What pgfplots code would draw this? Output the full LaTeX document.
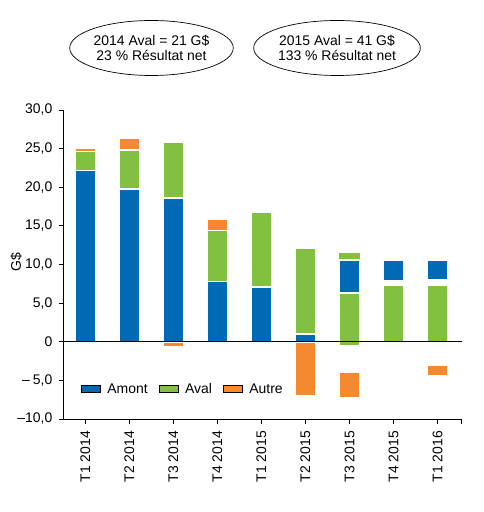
\documentclass[border=0pt]{standalone}
\usepackage{pgfplots}
\pgfplotsset{compat=1.18}
\usepackage{pgfplotstable}
\usepackage{fontspec}
\setmainfont{Liberation Sans}
\usetikzlibrary{shapes.geometric}
\definecolor{amontc}{RGB}{0,106,180}
\definecolor{avalc}{RGB}{130,192,66}
\definecolor{autrec}{RGB}{244,137,48}

\pgfplotstableread{
x base olow gap1 glow gap2 amont aval gcap atop
0 0    0   0   0   0   22.2 2.4  0   0.5
1 0    0   0   0   0   19.8 5.0  0   1.5
2 -0.6 0.6 0   0   0   18.6 7.2  0   0
3 0    0   0   0   0   7.8  6.6  0   1.4
4 0    0   0   0   0   7.1  9.6  0   0
5 -7.0 7.0 0   0   0   1.0  11.1 0   0
6 -7.2 3.2 3.5 6.8 0   4.3  0    0.9 0
7 0    0   0   7.3 0.6 2.7  0    0   0
8 -4.4 1.4 3.0 7.3 0.7 2.6  0    0   0
}\data

\begin{document}
\begin{tikzpicture}[font=\fontsize{14}{16}\selectfont]
\useasboundingbox (-63.3bp,-93bp) rectangle (420.7bp,419bp);
\begin{axis}[
  at={(0,0)}, anchor=south west,
  axis on top,
  scale only axis, width=398.4bp, height=309bp,
  ybar stacked, stack negative=on previous, bar width=0.47,
  xmin=-0.5, xmax=8.55, ymin=-10, ymax=30,
  axis x line*=bottom, axis y line*=left,
  tick align=outside, major tick length=4.5bp,
  axis line style={line width=0.8bp, black},
  tick style={line width=0.8bp, black},
  xtick={0,1,2,3,4,5,6,7,8,8.55},
  xticklabels={T1 2014,T2 2014,T3 2014,T4 2014,T1 2015,T2 2015,T3 2015,T4 2015,T1 2016,{}},
  x tick label style={yshift=-4bp, rotate=90, anchor=east},
  y tick label style={xshift=-3bp},
  ytick={-10,-5,0,5,10,15,20,25,30},
  yticklabels={{–10,0},{–\hspace{3bp}5,0},{0},{5,0},{10,0},{15,0},{20,0},{25,0},{30,0}},
  extra y ticks={0},
  extra y tick labels={},
  extra y tick style={grid=major, major grid style={black, line width=0.8bp}},
  ylabel={G\$},
  ylabel style={at={(axis description cs:-0.118,0.508)}, anchor=center},
  legend image code/.code={\fill[#1] (0bp,-3.5bp) rectangle (19bp,3.5bp); \path (24bp,0bp);},
  legend style={draw=none, fill=none, at={(axis description cs:0.044,0.097)}, anchor=west,
    inner sep=0pt, /tikz/every even column/.append style={column sep=9bp}},
  legend columns=-1,
]
\addlegendimage{fill=amontc}
\addlegendentry{Amont}
\addlegendimage{fill=avalc}
\addlegendentry{Aval}
\addlegendimage{fill=autrec}
\addlegendentry{Autre}

\addplot[draw=none, fill=none, forget plot] table[x=x,y=base]{\data};
\addplot[fill=autrec, draw=white, line width=1.5bp, forget plot] table[x=x,y=olow]{\data};
\addplot[draw=none, fill=none, forget plot] table[x=x,y=gap1]{\data};
\addplot[fill=avalc, draw=white, line width=1.5bp, forget plot] table[x=x,y=glow]{\data};
\addplot[draw=none, fill=none, forget plot] table[x=x,y=gap2]{\data};
\addplot[fill=amontc, draw=white, line width=1.5bp, forget plot] table[x=x,y=amont]{\data};
\addplot[fill=avalc, draw=white, line width=1.5bp, forget plot] table[x=x,y=aval]{\data};
\addplot[fill=avalc, draw=none, forget plot] table[x=x,y=gcap]{\data};
\addplot[fill=autrec, draw=white, line width=1.5bp, forget plot] table[x=x,y=atop]{\data};
\end{axis}
\node[draw, ellipse, line width=0.7bp, minimum width=127bp, minimum height=55bp, inner sep=0pt,
  align=center, font=\fontsize{14}{15}\selectfont] at (88.2bp,371bp)
  {2014 Aval = 21 G\$\\23 \% Résultat net};
\node[draw, ellipse, line width=0.7bp, minimum width=130bp, minimum height=55bp, inner sep=0pt,
  align=center, font=\fontsize{14}{15}\selectfont] at (273.7bp,371bp)
  {2015 Aval = 41 G\$\\133 \% Résultat net};
\end{tikzpicture}
\end{document}
